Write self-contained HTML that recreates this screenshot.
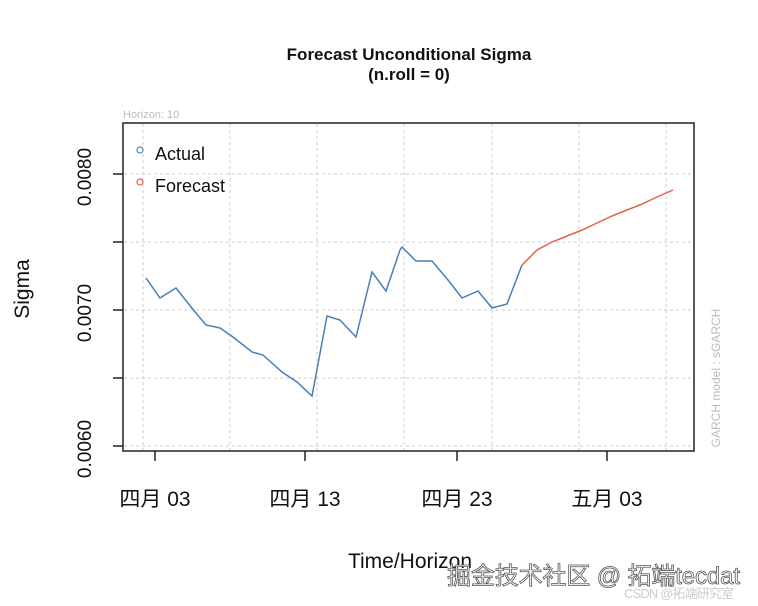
<!DOCTYPE html>
<html><head><meta charset="utf-8"><style>
body{margin:0;background:#fff;}
svg{display:block;font-family:"Liberation Sans","Noto Sans CJK SC",sans-serif;}
</style></head><body>
<svg width="758" height="606" viewBox="0 0 758 606">
<rect width="758" height="606" fill="#fff"/>
<text x="409" y="60" font-size="17" font-weight="bold" text-anchor="middle" fill="#111">Forecast Unconditional Sigma</text>
<text x="409" y="80" font-size="17" font-weight="bold" text-anchor="middle" fill="#111">(n.roll = 0)</text>
<text x="123" y="118" font-size="11" fill="#bbb">Horizon: 10</text>
<g stroke="#ccc" stroke-width="1" stroke-dasharray="3,3">
<line x1="143" y1="124" x2="143" y2="450"/><line x1="230" y1="124" x2="230" y2="450"/>
<line x1="317" y1="124" x2="317" y2="450"/><line x1="404" y1="124" x2="404" y2="450"/>
<line x1="492" y1="124" x2="492" y2="450"/><line x1="579" y1="124" x2="579" y2="450"/>
<line x1="666" y1="124" x2="666" y2="450"/>
<line x1="124" y1="174" x2="694" y2="174"/><line x1="124" y1="242" x2="694" y2="242"/>
<line x1="124" y1="310" x2="694" y2="310"/><line x1="124" y1="378" x2="694" y2="378"/>
<line x1="124" y1="446" x2="694" y2="446"/>
</g>
<rect x="123" y="123" width="571" height="328" fill="none" stroke="#222" stroke-width="1.5"/>
<g stroke="#222" stroke-width="1.5">
<line x1="113" y1="174" x2="123" y2="174"/><line x1="113" y1="242" x2="123" y2="242"/>
<line x1="113" y1="310" x2="123" y2="310"/><line x1="113" y1="378" x2="123" y2="378"/>
<line x1="113" y1="446" x2="123" y2="446"/>
<line x1="155" y1="451" x2="155" y2="461"/><line x1="305" y1="451" x2="305" y2="461"/>
<line x1="457" y1="451" x2="457" y2="461"/><line x1="607" y1="451" x2="607" y2="461"/>
</g>
<g font-size="19" fill="#111" text-anchor="middle">
<text transform="translate(91,177) rotate(-90)">0.0080</text>
<text transform="translate(91,313) rotate(-90)">0.0070</text>
<text transform="translate(91,449) rotate(-90)">0.0060</text>
<text transform="translate(29,289) rotate(-90)" font-size="21">Sigma</text>
<text x="155" y="506" font-size="21">四月 03</text>
<text x="305" y="506" font-size="21">四月 13</text>
<text x="457" y="506" font-size="21">四月 23</text>
<text x="607" y="506" font-size="21">五月 03</text>
<text x="410" y="568" font-size="21">Time/Horizon</text>
</g>
<text transform="translate(720,378) rotate(-90)" font-size="12" fill="#bbb" text-anchor="middle">GARCH model : sGARCH</text>
<circle cx="140" cy="150" r="3" fill="none" stroke="#4f81bd" stroke-width="1.2"/>
<circle cx="140" cy="182" r="3" fill="none" stroke="#e8604a" stroke-width="1.2"/>
<text x="155" y="160" font-size="18" fill="#111">Actual</text>
<text x="155" y="192" font-size="18" fill="#111">Forecast</text>
<polyline fill="none" stroke="#4a7fb5" stroke-width="1.5" points="146,278 160,298 176,288 191,307 206,325 220,328 233,337 252,352 263,355 282,372 297,382 312,396 327,316 340,320 356,337 372,272 386,291 400,250 402,247 416,261 432,261 448,280 462,298 478,291 492,308 507,304 522,265"/>
<polyline fill="none" stroke="#e8604a" stroke-width="1.5" points="522,265 537,250 552,242 567,236 582,230 597,223 612,216 627,210 642,204 657,197 673,190"/>
<text x="447" y="584" font-size="24" fill="#fff" stroke="#555" stroke-width="0.8" textLength="293">掘金技术社区 @ 拓端tecdat</text>
<text x="624" y="598" font-size="13" fill="#ccc" textLength="110">CSDN @拓端研究室</text>
</svg>
</body></html>
